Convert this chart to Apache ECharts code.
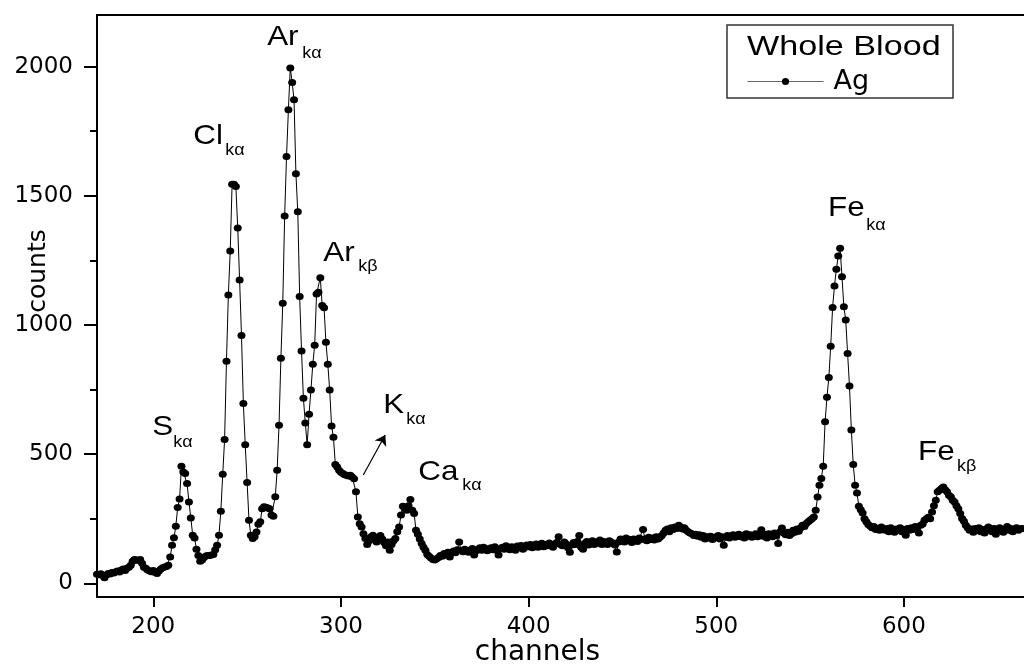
<!DOCTYPE html>
<html><head><meta charset="utf-8">
<script src="https://cdn.jsdelivr.net/npm/echarts@6/dist/echarts.min.js"></script>
<style>html,body{margin:0;padding:0;background:#fff}#c{width:1024px;height:668px}</style>
</head><body><div id="c"></div>
<script>
// ---------- data ----------
const channelStart = 170;
const counts = [
 35, 33, 37, 30, 22, 32, 38, 36, 42, 40,
 45, 48, 44, 52, 55, 50, 58, 62, 70, 85,
 92, 90, 88, 92, 78, 62, 58, 52, 48, 45,
 50, 42, 38, 48, 55, 60, 63, 65, 70, 102,
 147, 176, 221, 293, 326, 453, 431, 425, 386, 315,
 253, 186, 175, 132, 108, 85, 90, 100, 106, 108,
 108, 110, 112, 130, 147, 186, 279, 422, 557, 860,
 1116, 1286, 1545, 1545, 1536, 1375, 1174, 959, 696, 536,
 390, 244, 186, 173, 180, 199, 229, 238, 289, 296,
 294, 292, 289, 264, 260, 335, 438, 612, 871, 1084,
 1422, 1652, 1833, 1995, 1939, 1872, 1585, 1438, 1110, 899,
 716, 621, 536, 654, 748, 848, 922, 1120, 1127, 1183,
 1075, 1067, 933, 848, 748, 609, 565, 460, 450, 438,
 430, 425, 420, 418, 415, 418, 412, 405, 354, 257,
 231, 218, 192, 173, 150, 165, 180, 186, 170, 160,
 178, 185, 172, 158, 145, 160, 128, 150, 165, 173,
 200, 218, 264, 298, 290, 283, 300, 324, 283, 270,
 205, 190, 172, 154, 140, 128, 112, 105, 98, 92,
 90, 95, 100, 108, 105, 115, 110, 120, 102, 118,
 125, 118, 130, 160, 128, 122, 132, 125, 120, 128,
 135, 110, 126, 130, 138, 128, 140, 132, 126, 135,
 138, 130, 142, 128, 110, 134, 140, 132, 145, 138,
 130, 142, 136, 128, 144, 138, 146, 132, 140, 148,
 142, 150, 138, 145, 152, 140, 148, 155, 142, 150,
 145, 156, 148, 140, 152, 158, 180, 150, 145, 160,
 152, 138, 120, 148, 158, 150, 162, 185, 140, 132,
 155, 162, 148, 158, 165, 150, 160, 155, 168, 150,
 162, 158, 150, 165, 160, 155, 148, 121, 160, 172,
 168, 160, 175, 165, 170, 158, 172, 168, 162, 175,
 170, 208, 172, 165, 178, 170, 175, 168, 180, 172,
 178, 185, 195, 205, 210, 200, 215, 208, 218, 212,
 225, 218, 210, 215, 205, 200, 195, 192, 185, 190,
 182, 188, 178, 185, 172, 180, 175, 182, 170, 178,
 176, 185, 172, 180, 147, 178, 185, 175, 182, 188,
 178, 185, 190, 180, 186, 175, 192, 182, 188, 178,
 185, 192, 180, 188, 207, 182, 190, 175, 192, 186,
 180, 195, 185, 154, 200, 214, 195, 188, 198, 185,
 192, 205, 198, 210, 202, 215, 225, 220, 232, 238,
 244, 250, 257, 283, 334, 380, 406, 453, 625, 720,
 797, 918, 1068, 1151, 1216, 1267, 1297, 1187, 1071, 1019,
 890, 764, 593, 460, 380, 350, 298, 285, 272, 250,
 238, 228, 222, 215, 220, 208, 212, 205, 218, 210,
 205, 212, 200, 215, 208, 198, 210, 205, 215, 200,
 208, 186, 212, 205, 215, 208, 220, 212, 195, 225,
 230, 244, 250, 256, 250, 276, 300, 322, 354, 360,
 367, 373, 362, 354, 341, 335, 322, 315, 300, 289,
 270, 251, 240, 225, 215, 205, 210, 198, 212, 205,
 215, 200, 208, 195, 210, 218, 205, 200, 212, 190,
 205, 215, 208, 198, 210, 220, 205, 212, 200, 208,
 215, 205, 210, 212
];
const xTicks = [200, 300, 400, 500, 600];
const yTicks = [0, 500, 1000, 1500, 2000];
const yMinorTicks = [250, 750, 1250, 1750];
const seriesName = 'Ag';
const legendTitle = 'Whole Blood';
const peakElements = ['S', 'Cl', 'Ar', 'Ar', 'K', 'Ca', 'Fe', 'Fe'];
const peakLines = ['kα', 'kα', 'kα', 'kβ', 'kα', 'kα', 'kα', 'kβ'];

// ---------- layout ----------
const FONT = '"Liberation Sans", Arial, Helvetica, sans-serif';
const WIDE = '"DejaVu Sans", "Liberation Sans", Arial, sans-serif';
// annotation anchors in data coordinates: [element x, element y, line x, line y]
const labelAnchors = [
  [199.5, 605, 210.6, 543],
  [221.3, 1729, 238.4, 1674],
  [260.7, 2112, 279.4, 2050],
  [290.6, 1279, 309.2, 1225],
  [322.5, 690, 334.8, 632],
  [341.2, 430, 364.6, 380],
  [559.6, 1450, 579.9, 1384],
  [607.5, 508, 628.3, 450]
];
const arrowFrom = [311.9, 419], arrowTo = [323.6, 574];

const seriesData = counts.map((v, i) => [channelStart + i, v]);

const chart = echarts.init(document.getElementById('c'), null, {renderer: 'canvas'});
const axisLine = {show: true, onZero: false, lineStyle: {color: '#000', width: 2}};
const plain = v => String(v);
const option = {
  animation: false,
  backgroundColor: '#fff',
  textStyle: {fontFamily: FONT},
  grid: {left: 97, right: 0, top: 15, bottom: 71, containLabel: false, outerBoundsMode: 'none'},
  xAxis: [{
    type: 'value', min: 170, max: 664,
    name: 'channels', nameLocation: 'middle', nameGap: 42, nameMoveOverlap: false,
    nameTextStyle: {fontSize: 28, color: '#000', fontFamily: WIDE, padding: [0, 46, 0, 0]},
    axisLine: axisLine,
    axisTick: {show: true, length: 10, lineStyle: {color: '#000', width: 2}, customValues: xTicks},
    axisLabel: {show: true, fontSize: 23, color: '#000', margin: 19, fontFamily: WIDE, customValues: xTicks, formatter: plain},
    splitLine: {show: false}
  }, {
    type: 'value', min: 170, max: 664, position: 'top',
    axisLine: axisLine, axisTick: {show: false}, axisLabel: {show: false}, splitLine: {show: false}
  }],
  yAxis: [{
    type: 'value', min: -53, max: 2200,
    name: 'counts', nameLocation: 'middle', nameGap: 46, nameRotate: 90, nameMoveOverlap: false,
    nameTextStyle: {fontSize: 25, color: '#000', fontFamily: WIDE, padding: [0, 0, 0, 70]},
    axisLine: axisLine,
    axisTick: {show: true, length: 13, lineStyle: {color: '#000', width: 2}, customValues: yTicks},
    axisLabel: {show: true, fontSize: 23, color: '#000', margin: 24, fontFamily: WIDE, customValues: yTicks, formatter: plain},
    splitLine: {show: false}
  }, {
    type: 'value', min: -53, max: 2200, position: 'left',
    axisLine: {show: false, onZero: false},
    axisTick: {show: true, length: 7, lineStyle: {color: '#000', width: 2}, customValues: yMinorTicks},
    axisLabel: {show: false}, splitLine: {show: false}
  }],
  legend: {
    data: [seriesName], left: 747, top: 68, padding: 0, itemGap: 0,
    itemWidth: 76, itemHeight: 9,
    textStyle: {fontSize: 27, color: '#000', fontFamily: WIDE, padding: [0, 0, 0, 5]},
    lineStyle: {color: '#666', width: 1},
    itemStyle: {color: '#000'}
  },
  series: [{
    name: seriesName, type: 'line', data: seriesData,
    xAxisIndex: 0, yAxisIndex: 0,
    symbol: 'circle', symbolSize: [8, 7], showSymbol: true,
    lineStyle: {color: '#000', width: 1},
    itemStyle: {color: '#000'},
    markLine: {
      silent: true, symbol: ['none', 'arrow'], symbolSize: 10,
      lineStyle: {color: '#000', width: 1.2, type: 'solid'},
      label: {show: false},
      emphasis: {disabled: true},
      data: [[{coord: arrowFrom}, {coord: arrowTo}]]
    }
  }]
};
chart.setOption(option);

const graphics = [{
  type: 'rect', z: 10,
  shape: {x: 727, y: 25, width: 226, height: 73},
  style: {fill: 'none', stroke: '#333', lineWidth: 1.5}
}, {
  type: 'text', z: 11, x: 747, y: 47, scaleX: 1.22,
  style: {text: legendTitle, font: '28px ' + FONT, fill: '#000', align: 'left', verticalAlign: 'middle'}
}];
labelAnchors.forEach((p, i) => {
  const a = chart.convertToPixel({gridIndex: 0}, [p[0], p[1]]);
  const b = chart.convertToPixel({gridIndex: 0}, [p[2], p[3]]);
  graphics.push({type: 'text', z: 11, x: a[0], y: a[1], scaleX: 1.12,
    style: {text: peakElements[i], font: '28px ' + FONT, fill: '#000', align: 'left', verticalAlign: 'middle'}});
  graphics.push({type: 'text', z: 11, x: b[0], y: b[1], scaleX: 1.12,
    style: {text: peakLines[i], font: '16px ' + FONT, fill: '#000', align: 'left', verticalAlign: 'middle'}});
});
chart.setOption({graphic: graphics});
</script>
</body></html>
